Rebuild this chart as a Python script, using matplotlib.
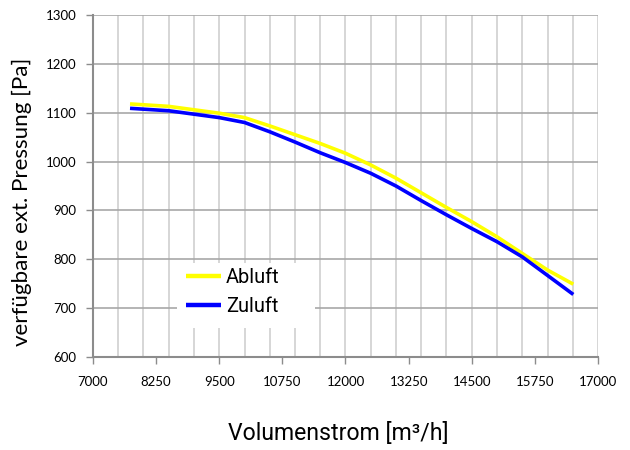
import matplotlib
matplotlib.use("Agg")
import matplotlib.pyplot as plt
from matplotlib.patches import Rectangle
import numpy as np

plt.rcParams['font.family'] = ['Lato', 'DejaVu Sans']

abluft_x = [7733, 8500, 9000, 9500, 10000, 10500, 11000, 11500, 12000, 12500, 13000, 13500, 14000, 14500, 15000, 15500, 16000, 16511]
abluft_y = [1118, 1113, 1106, 1099, 1090, 1073, 1055, 1037, 1017, 993, 966, 936, 906, 877, 846, 812, 778, 749]

zuluft_x = [7733, 8500, 9000, 9500, 10000, 10500, 11000, 11500, 12000, 12500, 13000, 13500, 14000, 14500, 15000, 15500, 16000, 16511]
zuluft_y = [1109, 1104, 1097, 1090, 1080, 1061, 1040, 1018, 998, 976, 950, 920, 891, 863, 836, 805, 767, 728]

x_ticks = [7000, 8250, 9500, 10750, 12000, 13250, 14500, 15750, 17000]
x_grid = np.arange(7000, 17001, 500)
y_ticks = [600, 700, 800, 900, 1000, 1100, 1200, 1300]

W, H = 630, 450
fig = plt.figure(figsize=(6.3, 4.5), dpi=100)
ax = fig.add_axes([93 / W, 1 - 357 / H, 505 / W, 342 / H])
renderer = fig.canvas.get_renderer()

def fit(t, target, dim):
    bb = t.get_window_extent(renderer)
    cur = bb.width if dim == 'w' else bb.height
    t.set_fontsize(t.get_fontsize() * target / cur)

ax.plot(abluft_x, abluft_y, color='#ffff00', lw=2.6, label='Abluft', solid_capstyle='butt', zorder=3)
ax.plot(zuluft_x, zuluft_y, color='#0000ff', lw=2.6, label='Zuluft', solid_capstyle='butt', zorder=4)

ax.set_xlim(7000, 17000)
ax.set_ylim(600, 1300)
ax.set_xticks(x_ticks)
ax.set_yticks(y_ticks)
for gx in x_grid:
    ax.axvline(gx, color='#d0d0d0', lw=1.2, zorder=0)
ax.grid(True, which='major', axis='y', color='#a8a8a8', lw=1.2, zorder=0)
ax.grid(False, axis='x')
ax.set_axisbelow(True)

for s in ['top', 'right']:
    ax.spines[s].set_visible(False)
for s in ['left', 'bottom']:
    ax.spines[s].set_color('#8c8c8c')
    ax.spines[s].set_linewidth(1.5)

ax.tick_params(axis='x', direction='out', length=5, color='#8c8c8c', width=1, labelsize=9.5, pad=9)
ax.tick_params(axis='y', direction='out', length=5, color='#8c8c8c', width=1, labelsize=9.5, pad=7)

# axis titles
xl = fig.text(338 / W, 1 - 433 / H, 'Volumenstrom [m³/h]', ha='center', va='center',
              fontsize=15, family=['Roboto', 'DejaVu Sans'])
fit(xl, 220, 'w')
yl = fig.text(22 / W, 1 - 202 / H, 'verfügbare ext. Pressung [Pa]', ha='center', va='center',
              rotation=90, fontsize=15)
fit(yl, 289, 'h')

# legend background box
ax.add_patch(Rectangle((177 / W, 1 - 328 / H), 138 / W, 65 / H, transform=fig.transFigure,
                       facecolor='white', edgecolor='none', zorder=2, clip_on=False))

tmp = fig.text(0, 0, 'Abluft', fontsize=14, family=['Roboto', 'DejaVu Sans'])
fit(tmp, 54, 'w')
leg_size = tmp.get_fontsize()
tmp.remove()

leg = ax.legend(loc='upper left', bbox_to_anchor=(177 / W, 1 - 259 / H), bbox_transform=fig.transFigure,
                borderaxespad=0, frameon=False,
                prop={'family': ['Roboto', 'DejaVu Sans'], 'size': leg_size},
                handlelength=1.75, handletextpad=0.25, borderpad=0.45, labelspacing=0.5)
for line in leg.get_lines():
    line.set_linewidth(3.2)

fig.savefig('out.png', dpi=100)
